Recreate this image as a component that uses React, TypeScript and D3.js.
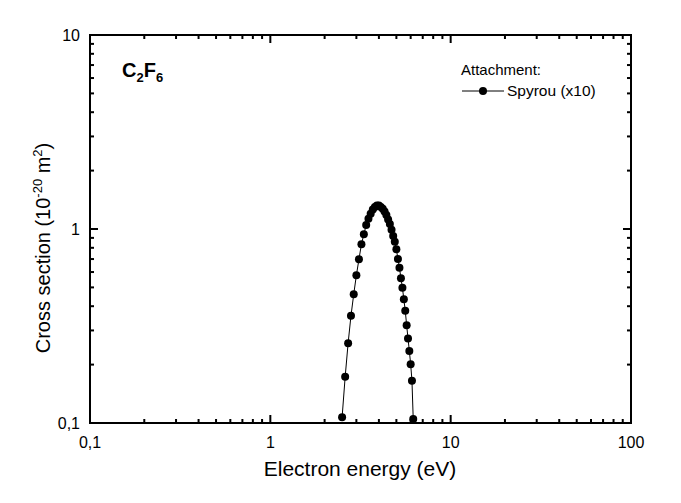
import React, {useEffect, useRef} from 'react';
import * as d3 from 'd3';

// Spyrou attachment cross section (x10)
const energy = [
    2.5, 2.6, 2.7, 2.8, 2.9, 3.0, 3.1, 3.2, 3.3, 3.4,
    3.5, 3.6, 3.7, 3.8, 3.9, 4.0, 4.1, 4.2, 4.3, 4.4, 4.5, 4.6, 4.7, 4.8,
    4.9, 5.0, 5.1, 5.2, 5.3, 5.4, 5.5, 5.6, 5.7, 5.8, 5.9, 6.0, 6.1, 6.2
];
const crossSection = [
    0.107, 0.173, 0.258, 0.357, 0.461, 0.577, 0.698, 0.834, 0.939, 1.048,
    1.13, 1.20, 1.26, 1.30, 1.32, 1.32, 1.30, 1.27, 1.23, 1.18, 1.12, 1.06, 0.99, 0.92,
    0.860, 0.786, 0.701, 0.632, 0.557, 0.498, 0.434, 0.379, 0.319, 0.273, 0.235, 0.201, 0.165, 0.105
];
const xTicks = [0.1, 1, 10, 100];
const yTicks = [0.1, 1, 10];
const seriesName = 'Spyrou (x10)';

const width = 681;
const height = 503;
const margin = {top: 35, right: 50, bottom: 80, left: 90};
const font = 'Arial, "Liberation Sans", sans-serif';

const fmt = (v: number) => String(v).replace('.', ',');

const minors = (lo: number, hi: number) => {
    const out: number[] = [];
    for (let d = lo; d < hi; d *= 10) {
        for (let k = 2; k <= 9; k++) out.push(d * k);
    }
    return out;
};

const App: React.FC = () => {
    const svgRef = useRef<SVGSVGElement>(null);

    useEffect(() => {
        const svg = d3.select(svgRef.current);
        svg.selectAll('*').remove();

        const innerWidth = width - margin.left - margin.right;
        const innerHeight = height - margin.top - margin.bottom;

        const x = d3.scaleLog().domain([0.1, 100]).range([0, innerWidth]);
        const y = d3.scaleLog().domain([0.1, 10]).range([innerHeight, 0]);

        const g = svg.append('g')
            .attr('transform', `translate(${margin.left},${margin.top})`);

        // frame
        g.append('rect')
            .attr('width', innerWidth)
            .attr('height', innerHeight)
            .attr('fill', 'none')
            .attr('stroke', '#000')
            .attr('stroke-width', 2);

        const xMinor = minors(0.1, 100);
        const yMinor = minors(0.1, 10);

        // inward ticks on all four sides
        const tick = (vals: number[], len: number) => {
            vals.forEach(v => {
                const px = x(v);
                g.append('line').attr('x1', px).attr('x2', px)
                    .attr('y1', innerHeight).attr('y2', innerHeight - len);
                g.append('line').attr('x1', px).attr('x2', px)
                    .attr('y1', 0).attr('y2', len);
            });
        };
        const ytick = (vals: number[], len: number) => {
            vals.forEach(v => {
                const py = y(v);
                g.append('line').attr('y1', py).attr('y2', py)
                    .attr('x1', 0).attr('x2', len);
                g.append('line').attr('y1', py).attr('y2', py)
                    .attr('x1', innerWidth).attr('x2', innerWidth - len);
            });
        };
        tick(xMinor, 4);
        tick(xTicks, 8);
        ytick(yMinor, 4);
        ytick(yTicks, 8);
        g.selectAll('line').attr('stroke', '#000').attr('stroke-width', 2);

        // tick labels
        g.selectAll('.xl').data(xTicks).enter().append('text')
            .attr('x', d => x(d))
            .attr('y', innerHeight + 25)
            .attr('text-anchor', 'middle')
            .style('font-family', font)
            .style('font-size', '16px')
            .text(d => fmt(d));

        g.selectAll('.yl').data(yTicks).enter().append('text')
            .attr('x', -10)
            .attr('y', d => y(d) + 6)
            .attr('text-anchor', 'end')
            .style('font-family', font)
            .style('font-size', '16px')
            .text(d => fmt(d));

        // data
        const pts = energy.map((e, i) => [e, crossSection[i]] as [number, number]);
        const line = d3.line<[number, number]>()
            .x(d => x(d[0]))
            .y(d => y(d[1]));

        g.append('path')
            .datum(pts)
            .attr('fill', 'none')
            .attr('stroke', '#000')
            .attr('stroke-width', 1)
            .attr('d', line);

        g.selectAll('.dot').data(pts).enter().append('circle')
            .attr('cx', d => x(d[0]))
            .attr('cy', d => y(d[1]))
            .attr('r', 4)
            .attr('fill', '#000');

        // axis titles
        svg.append('text')
            .attr('x', 360)
            .attr('y', 476)
            .attr('text-anchor', 'middle')
            .style('font-family', font)
            .style('font-size', '21px')
            .text('Electron energy (eV)');

        const yt = svg.append('text')
            .attr('transform', 'translate(50,248) rotate(-90)')
            .attr('text-anchor', 'middle')
            .style('font-family', font)
            .style('font-size', '20px');
        yt.append('tspan').text('Cross section (10');
        yt.append('tspan').attr('dy', -8).style('font-size', '13px').text('-20');
        yt.append('tspan').attr('dy', 8).text(' m');
        yt.append('tspan').attr('dy', -8).style('font-size', '13px').text('2');
        yt.append('tspan').attr('dy', 8).text(')');

        // gas label
        const gas = svg.append('text')
            .attr('x', 122)
            .attr('y', 77)
            .style('font-family', font)
            .style('font-size', '20px')
            .style('font-weight', 'bold');
        gas.append('tspan').text('C');
        gas.append('tspan').attr('dy', 5).style('font-size', '13px').text('2');
        gas.append('tspan').attr('dy', -5).text('F');
        gas.append('tspan').attr('dy', 5).style('font-size', '13px').text('6');

        // legend
        svg.append('text')
            .attr('x', 461)
            .attr('y', 75)
            .style('font-family', font)
            .style('font-size', '15px')
            .text('Attachment:');
        svg.append('line')
            .attr('x1', 462).attr('x2', 504)
            .attr('y1', 91).attr('y2', 91)
            .attr('stroke', '#000').attr('stroke-width', 1);
        svg.append('circle')
            .attr('cx', 483).attr('cy', 91).attr('r', 4).attr('fill', '#000');
        svg.append('text')
            .attr('x', 507)
            .attr('y', 96)
            .style('font-family', font)
            .style('font-size', '15.5px')
            .text(seriesName);
    }, []);

    return (
        <div style={{position: 'absolute', left: 0, top: 0, background: '#fff'}}>
            <svg ref={svgRef} width={width} height={height} style={{display: 'block'}}/>
        </div>
    );
};

export default App;
